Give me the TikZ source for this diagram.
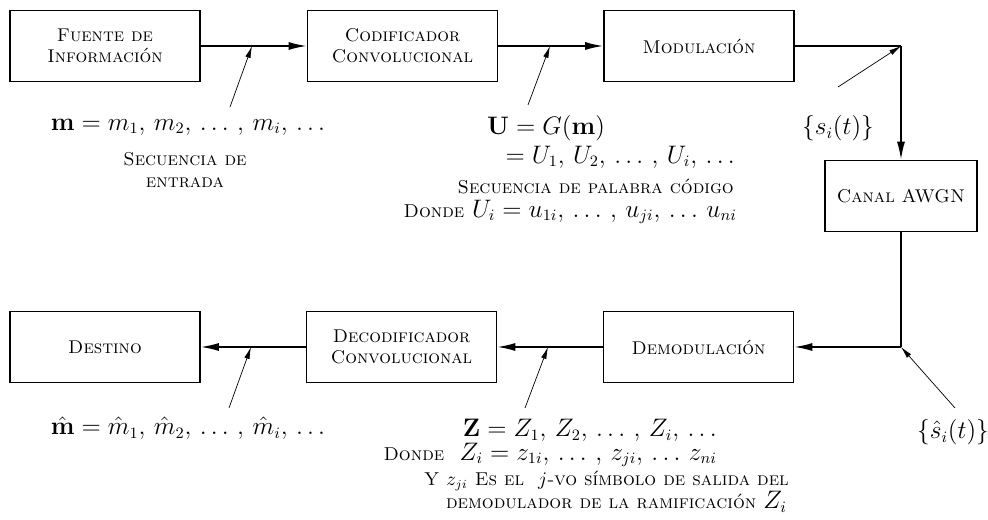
\documentclass[tikz,border=0pt]{standalone}
\usetikzlibrary{arrows.meta}

\newcommand{\rotulo}{\fontsize{10.6}{12.5}\selectfont\scshape}

\tikzset{
  bloque/.style={draw, line width=0.9pt, minimum width=3.8cm, minimum height=1.42cm,
    align=center, font=\fontsize{10.5}{12}\selectfont\scshape},
  linea/.style={line width=0.9pt},
  flecha/.style={line width=0.9pt, -{Latex[length=3.6mm,width=1.6mm]}},
  puntero/.style={line width=0.4pt, -{Latex[length=2.4mm,width=1.1mm]}},
  mate/.style={font=\fontsize{13.5}{16}\selectfont},
  etiq/.style={font=\rotulo, align=center},
}

\begin{document}
\begin{tikzpicture}
    \useasboundingbox (0,0) rectangle (19.76,10.4);

    % Fila superior
    \node[bloque] (fuente) at (2.1,9.48) {Fuente de\\Información};
    \node[bloque] (codif) at (8.05,9.48) {Codificador\\Convolucional};
    \node[bloque] (modul) at (13.98,9.48) {Modulación};

    % Canal
    \node[bloque, minimum width=3.04cm] (canal) at (18.02,6.48) {Canal AWGN};

    % Fila inferior
    \node[bloque] (destino) at (2.1,3.46) {Destino};
    \node[bloque] (decod) at (8.03,3.46) {Decodificador\\Convolucional};
    \node[bloque] (demod) at (13.97,3.46) {Demodulación};

    % Conexiones
    \coordinate (esq1) at (18.02,9.48);
    \coordinate (esq2) at (18.02,3.46);
    \draw[flecha] (fuente) -- (codif);
    \draw[flecha] (codif) -- (modul);
    \draw[linea] (modul) -- (esq1);
    \draw[flecha] (esq1) -- (canal);
    \draw[linea] (canal) -- (esq2);
    \draw[flecha] (esq2) -- (demod);
    \draw[flecha] (demod) -- (decod);
    \draw[flecha] (decod) -- (destino);

    % Secuencias arriba
    \node[mate] (mlin) at (3.76,7.86) {$\mathbf{m} = m_1,\, m_2,\, \ldots\, ,\, m_i,\, \ldots$};
    \node[etiq] (secent) at (3.70,7.0) {Secuencia de\\entrada};

    \node[mate, anchor=west] (ug) at (9.62,7.84) {$\mathbf{U} = G(\mathbf{m})$};
    \node[mate, anchor=east] (useq) at (14.82,7.26) {$= U_1,\, U_2,\, \ldots\, ,\, U_i,\, \ldots$};
    \node[etiq, anchor=east] (secpal) at (14.8,6.68) {Secuencia de palabra código};
    \node[mate, anchor=east] (udonde) at (14.86,6.16) {{\rotulo Donde} $U_i = u_{1i},\, \ldots\, ,\, u_{ji},\, \ldots\, u_{ni}$};

    \node[mate] (sit) at (16.76,7.84) {$\{s_i(t)\}$};

    % Secuencias abajo
    \node[mate] (mhat) at (3.76,1.84) {$\hat{\mathbf{m}} = \hat{m}_1,\, \hat{m}_2,\, \ldots\, ,\, \hat{m}_i,\, \ldots$};

    \node[mate, anchor=east] (zseq) at (14.46,1.8) {$\mathbf{Z} = Z_1,\, Z_2,\, \ldots\, ,\, Z_i,\, \ldots$};
    \node[mate, anchor=east] (zdonde) at (14.46,1.3) {{\rotulo Donde}\ \ $Z_i = z_{1i},\, \ldots\, ,\, z_{ji},\, \ldots\, z_{ni}$};
    \node[etiq, anchor=east] (zsimb) at (15.9,0.78) {Y $z_{ji}$ Es el \ $j$-vo símbolo de salida del};
    \node[etiq, anchor=east] (zram) at (15.86,0.36) {demodulador de la ramificación {\fontsize{13.5}{16}\selectfont$Z_i$}};

    \node[mate] (shat) at (19.06,1.76) {$\{\hat{s}_i(t)\}$};

    % Punteros
    \coordinate (p1) at (4.6,8.26);
    \coordinate (q1) at (5.04,9.48);
    \coordinate (p2) at (10.56,8.3);
    \coordinate (q2) at (11.0,9.48);
    \coordinate (p3) at (16.76,8.66);
    \coordinate (p4) at (4.58,2.24);
    \coordinate (q4) at (5.02,3.46);
    \coordinate (p5) at (10.5,2.24);
    \coordinate (q5) at (10.96,3.46);
    \coordinate (p6) at (19.1,2.24);
    \draw[puntero] (p1) -- (q1);
    \draw[puntero] (p2) -- (q2);
    \draw[puntero] (p3) -- (esq1);
    \draw[puntero] (p4) -- (q4);
    \draw[puntero] (p5) -- (q5);
    \draw[puntero] (p6) -- (esq2);
\end{tikzpicture}
\end{document}
